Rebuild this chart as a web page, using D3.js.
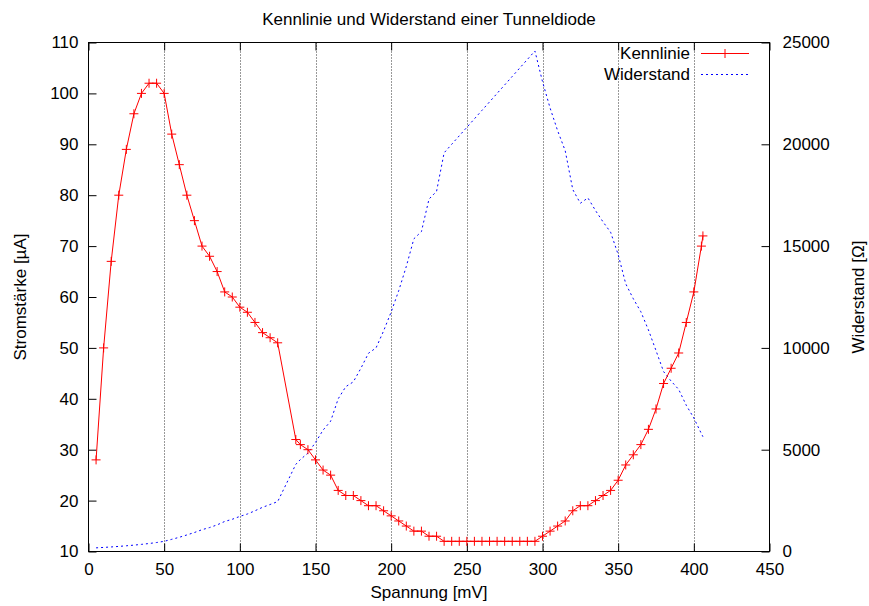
<!DOCTYPE html>
<html>
<head>
<meta charset="utf-8">
<script src="https://cdn.jsdelivr.net/npm/d3@7/dist/d3.min.js"></script>
<style>
    body { margin: 0; background: #fff; }
    svg text { font-family: "Liberation Sans", Arial, sans-serif; font-size: 17px; fill: #000; }
</style>
</head>
<body>
<svg id="chart" width="869" height="606"></svg>
<script>
// Spannung [mV]
var spannung = [5, 10, 15, 20, 25, 30, 35, 40, 45, 50, 55, 60, 65, 70, 75, 80, 85, 90, 95, 100,
    105, 110, 115, 120, 125, 137, 140, 145, 150, 155, 160, 165, 170, 175, 180, 185, 190, 195, 200,
    205, 210, 215, 220, 225, 230, 235, 240, 245, 250, 255, 260, 265, 270, 275, 280, 285, 290, 295,
    300, 305, 310, 315, 320, 325, 330, 335, 340, 345, 350, 355, 360, 365, 370, 375, 380, 385, 390,
    395, 400, 405, 406];
// Stromstaerke [uA]
var strom = [28, 50, 67, 80, 89, 96, 100, 102, 102, 100, 92, 86, 80, 75, 70, 68, 65, 61, 60, 58,
    57, 55, 53, 52, 51, 32, 31, 30, 28, 26, 25, 22, 21, 21, 20, 19, 19, 18, 17,
    16, 15, 14, 14, 13, 13, 12, 12, 12, 12, 12, 12, 12, 12, 12, 12, 12, 12, 12,
    13, 14, 15, 16, 18, 19, 19, 20, 21, 22, 24, 27, 29, 31, 34, 38, 43, 46, 49,
    55, 61, 70, 72];
// Widerstand [Ohm]
var widerstand = [179, 200, 224, 250, 281, 313, 350, 392, 441, 500, 598, 698, 813, 933, 1071, 1176, 1308, 1475, 1583, 1724,
    1842, 2000, 2170, 2308, 2451, 4281, 4516, 4833, 5357, 5962, 6400, 7500, 8095, 8333, 9000, 9737, 10000, 10833, 11765,
    12813, 14000, 15357, 15714, 17308, 17692, 19583, 20000, 20417, 20833, 21250, 21667, 22083, 22500, 22917, 23333, 23750, 24167, 24583,
    23077, 21786, 20667, 19688, 17778, 17105, 17368, 16750, 16190, 15682, 14583, 13148, 12414, 11774, 10882, 9868, 8837, 8370, 7959,
    7182, 6557, 5786, 5639];

var xTicks = [0, 50, 100, 150, 200, 250, 300, 350, 400, 450];
var yTicks = [10, 20, 30, 40, 50, 60, 70, 80, 90, 100, 110];
var y2Ticks = [0, 5000, 10000, 15000, 20000, 25000];

var svg = d3.select('#chart');
var plotL = 88.5, plotR = 769.5, plotT = 42.5, plotB = 551.5;

var x = d3.scaleLinear().domain([0, 450]).range([plotL, plotR]);
var y = d3.scaleLinear().domain([10, 110]).range([plotB, plotT]);
var y2 = d3.scaleLinear().domain([0, 25000]).range([plotB, plotT]);

var kennlinie = spannung.map(function(v, i) { return [v, strom[i]]; });
var wider = spannung.map(function(v, i) { return [v, widerstand[i]]; });

// vertical grid
svg.append('g').selectAll('line')
    .data(xTicks.filter(function(d) { return d > 0 && d < 450; }))
    .enter().append('line')
    .attr('x1', function(d) { return Math.round(x(d)) + 0.5; })
    .attr('x2', function(d) { return Math.round(x(d)) + 0.5; })
    .attr('y1', plotT).attr('y2', plotB)
    .attr('stroke', '#333').attr('stroke-width', 1)
    .attr('stroke-dasharray', '1,2');

// axes (ticks inward)
var xAxis = d3.axisBottom(x).tickValues(xTicks).tickSize(-8).tickPadding(11).tickFormat(d3.format('d'));
var xTop = d3.axisTop(x).tickValues(xTicks).tickSize(-8).tickFormat('');
var yAxis = d3.axisLeft(y).tickValues(yTicks).tickSize(-8).tickPadding(10).tickFormat(d3.format('d'));
var y2Axis = d3.axisRight(y2).tickValues(y2Ticks).tickSize(-8).tickPadding(13).tickFormat(d3.format('d'));

function styleAxis(g) {
    g.select('.domain').remove();
    g.selectAll('line').attr('stroke', '#000');
    g.selectAll('text').style('font-size', '17px').style('font-family', '"Liberation Sans", Arial, sans-serif');
}

svg.append('g').attr('transform', 'translate(0,' + plotB + ')').call(xAxis).call(styleAxis);
svg.append('g').attr('transform', 'translate(0,' + plotT + ')').call(xTop).call(styleAxis);
svg.append('g').attr('transform', 'translate(' + plotL + ',0)').call(yAxis).call(styleAxis);
svg.append('g').attr('transform', 'translate(' + plotR + ',0)').call(y2Axis).call(styleAxis);

// border
svg.append('rect')
    .attr('x', plotL).attr('y', plotT)
    .attr('width', plotR - plotL).attr('height', plotB - plotT)
    .attr('fill', 'none').attr('stroke', '#000').attr('stroke-width', 1);

// Widerstand line
var line2 = d3.line()
    .x(function(d) { return x(d[0]); })
    .y(function(d) { return y2(d[1]); });
svg.append('path')
    .datum(wider)
    .attr('d', line2)
    .attr('fill', 'none').attr('stroke', '#0000ff').attr('stroke-width', 1)
    .attr('stroke-dasharray', '2,3');

// Kennlinie line + markers
var line1 = d3.line()
    .x(function(d) { return x(d[0]); })
    .y(function(d) { return y(d[1]); });
svg.append('path')
    .datum(kennlinie)
    .attr('d', line1)
    .attr('fill', 'none').attr('stroke', '#ff0000').attr('stroke-width', 1);

function plus(sel, s) {
    sel.attr('d', function(d) {
        var px = x(d[0]), py = y(d[1]);
        return 'M' + (px - s) + ',' + py + 'H' + (px + s) + 'M' + px + ',' + (py - s) + 'V' + (py + s);
    });
}
svg.append('g').selectAll('path')
    .data(kennlinie)
    .enter().append('path')
    .call(plus, 4.5)
    .attr('fill', 'none').attr('stroke', '#ff0000').attr('stroke-width', 1);

// title and labels
svg.append('text').attr('x', 429).attr('y', 25).attr('text-anchor', 'middle')
    .text('Kennlinie und Widerstand einer Tunneldiode');
svg.append('text').attr('x', 429).attr('y', 598).attr('text-anchor', 'middle')
    .text('Spannung [mV]');
svg.append('text').attr('transform', 'translate(26,297) rotate(-90)').attr('text-anchor', 'middle')
    .text('Stromstärke [µA]');
svg.append('text').attr('transform', 'translate(864,297) rotate(-90)').attr('text-anchor', 'middle')
    .text('Widerstand [Ω]');

// legend
var legend = svg.append('g');
legend.append('text').attr('x', 690).attr('y', 59).attr('text-anchor', 'end').text('Kennlinie');
legend.append('path').attr('d', 'M701,53.5H749M725,49V58')
    .attr('fill', 'none').attr('stroke', '#ff0000').attr('stroke-width', 1);
legend.append('text').attr('x', 690).attr('y', 80).attr('text-anchor', 'end').text('Widerstand');
legend.append('path').attr('d', 'M701,74.5H749')
    .attr('fill', 'none').attr('stroke', '#0000ff').attr('stroke-width', 1)
    .attr('stroke-dasharray', '2,3');
</script>
</body>
</html>
